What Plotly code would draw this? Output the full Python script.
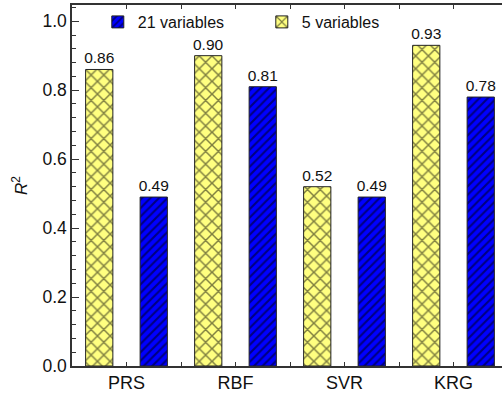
import plotly.graph_objects as go

# R^2 of each surrogate model, fitted on 5 and on 21 input variables
methods = ["PRS", "RBF", "SVR", "KRG"]
r2_5_vars = [0.86, 0.90, 0.52, 0.93]
r2_21_vars = [0.49, 0.81, 0.49, 0.78]

FONT = "Liberation Sans, Arial, sans-serif"
AXIS_COLOR = "#333333"

x_pos = list(range(len(methods)))
# extra ticks halfway between the model groups
between_ticks = [i - 0.5 for i in range(len(methods) + 1)]

fig = go.Figure()
fig.add_trace(go.Bar(
    x=x_pos, y=r2_5_vars, name="5 variables",
    marker=dict(color="#ffff80", line=dict(color="#222222", width=1),
                pattern=dict(shape="x", fgcolor="#000000", bgcolor="#ffff80",
                             size=9, solidity=0.3)),
    texttemplate="%{y:.2f}", textposition="outside", constraintext="none",
    textfont=dict(size=15.5, color="#111111", family=FONT), cliponaxis=False,
))
fig.add_trace(go.Bar(
    x=x_pos, y=r2_21_vars, name="21 variables",
    marker=dict(color="#0000ff", line=dict(color="#222222", width=1),
                pattern=dict(shape="/", fgcolor="#000000", bgcolor="#0000ff",
                             size=6, solidity=0.35)),
    texttemplate="%{y:.2f}", textposition="outside", constraintext="none",
    textfont=dict(size=15.5, color="#111111", family=FONT), cliponaxis=False,
))

fig.update_layout(
    width=502, height=394,
    margin=dict(l=72, r=0, t=5, b=28),
    paper_bgcolor="white", plot_bgcolor="white",
    font=dict(family=FONT, size=17, color="#111111"),
    barmode="group", bargap=0.0, bargroupgap=0.5,
    showlegend=True,
    legend=dict(orientation="h", x=0.06, y=1.0, xanchor="left", yanchor="top",
                traceorder="reversed", font=dict(size=16),
                bgcolor="rgba(0,0,0,0)", entrywidth=119),
    xaxis=dict(range=[-0.5, 3.445], tickmode="array", tickvals=x_pos,
               ticktext=methods, ticks="inside", ticklen=4, tickcolor=AXIS_COLOR,
               minor=dict(tickmode="array", tickvals=between_ticks, ticks="inside",
                          ticklen=4, tickcolor=AXIS_COLOR),
               showline=True, linecolor=AXIS_COLOR, linewidth=1.5, mirror="ticks",
               showgrid=False, zeroline=False, tickfont=dict(size=18)),
    yaxis=dict(range=[0, 1.047], dtick=0.2, tickformat=".1f", ticks="inside",
               ticklen=7, tickcolor=AXIS_COLOR, showline=True, linecolor=AXIS_COLOR,
               linewidth=1.5, showgrid=False, zeroline=False, tickfont=dict(size=17.5),
               minor=dict(dtick=0.04, ticks="inside", ticklen=4, tickcolor=AXIS_COLOR),
               title=dict(text="<i>R</i><sup>2</sup>", font=dict(size=17), standoff=10)),
    yaxis2=dict(range=[0, 1.047], dtick=0.2, overlaying="y", side="right", anchor="x",
                ticks="inside", ticklen=4, tickcolor=AXIS_COLOR, showticklabels=False,
                showline=False, showgrid=False, zeroline=False),
)

fig.write_html("out.html")
